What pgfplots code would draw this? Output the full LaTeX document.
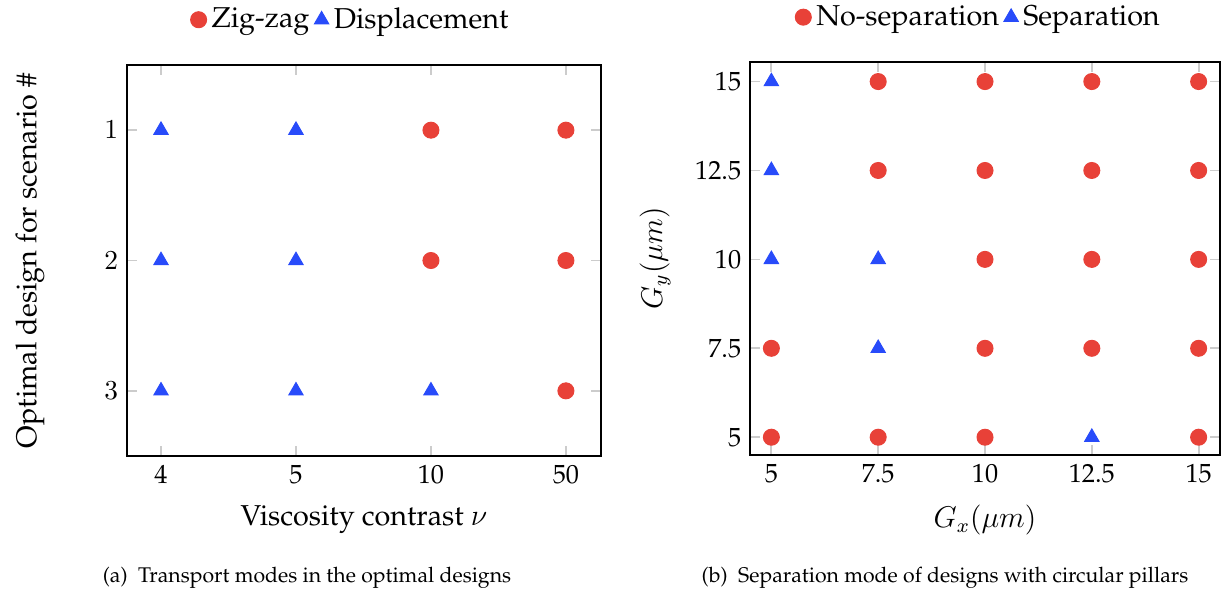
\documentclass[border=0pt]{standalone}
\usepackage[T1]{fontenc}
\usepackage{pgfplots}
\pgfplotsset{compat=1.18}
\renewcommand{\rmdefault}{ppl}
\definecolor{myred}{RGB}{232,65,56}
\definecolor{myblue}{RGB}{40,75,250}
\pgfplotsset{
  common/.style={
    scale only axis,
    axis line style={black, line width=0.5pt},
    tick style={gray!40, line width=0.7pt},
    major tick length=4pt,
    tick align=inside,
    tick label style={font=\fontsize{10.5}{12}\selectfont},
    label style={font=\fontsize{11.5}{14}\selectfont},
    legend style={draw=none, fill=none, at={(0.5,1)}, anchor=south, yshift=11pt,
      legend columns=-1, font=\fontsize{11.5}{14}\selectfont,
      /tikz/every even column/.append style={column sep=0pt},
      /tikz/every odd column/.append style={column sep=0pt},
      inner sep=0pt},
    legend image code/.code={\draw[#1] plot coordinates {(0cm,0cm)};},
    legend cell align=left,
  },
  redm/.style={only marks, mark=*, mark size=3.2pt, color=myred, mark options={fill=myred, draw=myred}},
  bluem/.style={only marks, mark=triangle*, mark size=3.3pt, color=myblue, mark options={fill=myblue, draw=myblue}},
}
\begin{document}
\begin{tikzpicture}
\useasboundingbox (0pt,0pt) rectangle (490pt,-238pt);
% Left panel
\begin{axis}[common,
  at={(50.8pt,-182.4pt)}, anchor=south west,
  width=189.6pt, height=156.4pt,
  xmin=-0.252, xmax=3.26,
  ymin=0.5, ymax=3.5, y dir=reverse,
  xtick={0,1,2,3}, xticklabels={4,5,10,50},
  ytick={1,2,3},
  xlabel={Viscosity contrast $\nu$},
  ylabel={Optimal design for scenario \#},
  xlabel style={at={(axis description cs:0.5,-0.1637)}, anchor=center},
  ylabel style={at={(axis description cs:-0.2046,0.5)}, anchor=center},
  legend style={xshift=-4.8pt},
]
\addplot[redm] coordinates {(2,1) (3,1) (2,2) (3,2) (3,3)};
\addlegendentry{Zig-zag}
\addplot[bluem] coordinates {(0,1) (1,1) (0,2) (1,2) (0,3) (1,3) (2,3)};
\addlegendentry{Displacement}
\end{axis}
% Right panel
\begin{axis}[common,
  at={(300pt,-182pt)}, anchor=south west,
  width=188pt, height=157.2pt,
  xmin=4.5, xmax=15.5, ymin=4.5, ymax=15.55,
  xtick={5,7.5,10,12.5,15}, ytick={5,7.5,10,12.5,15},
  xticklabels={5,7.5,10,12.5,15}, yticklabels={5,7.5,10,12.5,15},
  xlabel={$G_x(\mu m)$},
  ylabel={$G_y(\mu m)$},
  xlabel style={at={(axis description cs:0.5,-0.1654)}, anchor=center},
  ylabel style={at={(axis description cs:-0.202,0.5)}, anchor=center},
  legend style={xshift=-2pt},
]
\addplot[redm] coordinates {
 (7.5,15) (10,15) (12.5,15) (15,15)
 (7.5,12.5) (10,12.5) (12.5,12.5) (15,12.5)
 (10,10) (12.5,10) (15,10)
 (5,7.5) (10,7.5) (12.5,7.5) (15,7.5)
 (5,5) (7.5,5) (10,5) (15,5)};
\addlegendentry{No-separation}
\addplot[bluem] coordinates {(5,15) (5,12.5) (5,10) (7.5,10) (7.5,7.5) (12.5,5)};
\addlegendentry{Separation}
\end{axis}
\node[font=\fontsize{8.5}{10}\selectfont] at (122.8pt,-231.2pt) {(a)~~Transport modes in the optimal designs};
\node[font=\fontsize{8.5}{10}\selectfont] at (378pt,-231.2pt) {(b)~~Separation mode of designs with circular pillars};
\end{tikzpicture}
\end{document}
